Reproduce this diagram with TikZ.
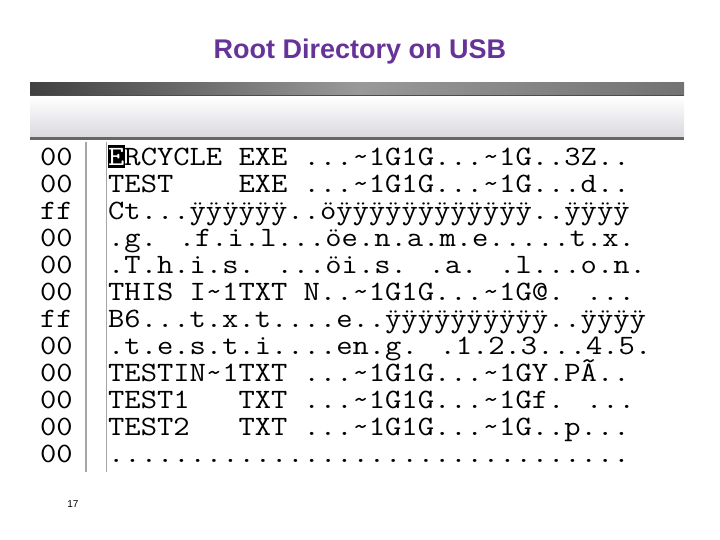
\documentclass[tikz,border=0pt]{standalone}
\usepackage{fontspec}
\setmainfont{Liberation Sans}
\newfontfamily\dumpfont[FakeStretch=1.13]{Latin Modern Mono}
\definecolor{ttl}{RGB}{102,51,153}
\begin{document}
\begin{tikzpicture}[x=1pt,y=1pt,
  row/.style={anchor=base west,inner sep=0pt,font=\dumpfont\fontsize{28}{28}\selectfont},
  hex/.style={anchor=base west,inner sep=0pt,font=\dumpfont\fontsize{28}{28}\selectfont}]
\useasboundingbox (0,0) rectangle (720,540);
\node[font=\bfseries\fontsize{27}{27}\selectfont,text=ttl] (title) at (360,488) {Root Directory on USB};
\shade[left color=black!75,right color=black!55,middle color=black!40] (30,445) rectangle (684,457);
\fill[black!70] (30,443) rectangle (684,445);
\shade[top color=white,bottom color=blue!15!black!15] (30,403) rectangle (684,443);
\fill[black!60] (30,400) rectangle (684,403);
\draw[black!35,line width=1.5] (86,398) -- (86,68);
\draw[black!35,line width=1] (106,398) -- (106,68);
\foreach \h [count=\i] in {00,00,ff,00,00,00,ff,00,00,00,00,00}
  \node[hex] (h\i) at (40,374-27*\i+27) {\h};
\node[row] (r1) at (108,374) {\phantom{E}RCYCLE EXE ...\string~1G1G...\string~1G..3Z..};
\fill[black] (108,372) rectangle (125,395);
\node[row,text=white] (r1b) at (108,374) {E};
\node[row] (r2) at (108,347) {TEST\ \ \ \ EXE ...\string~1G1G...\string~1G...d..};
\node[row] (r3) at (108,320) {Ct...ÿÿÿÿÿÿ..öÿÿÿÿÿÿÿÿÿÿÿÿ..ÿÿÿÿ};
\node[row] (r4) at (108,293) {.g. .f.i.l...öe.n.a.m.e.....t.x.};
\node[row] (r5) at (108,266) {.T.h.i.s. ...öi.s. .a. .l...o.n.};
\node[row] (r6) at (108,239) {THIS I\string~1TXT N..\string~1G1G...\string~1G@. ...};
\node[row] (r7) at (108,212) {B6...t.x.t....e..ÿÿÿÿÿÿÿÿÿÿ..ÿÿÿÿ};
\node[row] (r8) at (108,185) {.t.e.s.t.i....en.g. .1.2.3...4.5.};
\node[row] (r9) at (108,158) {TESTIN\string~1TXT ...\string~1G1G...\string~1GY.PÃ..};
\node[row] (r10) at (108,131) {TEST1\ \ \ TXT ...\string~1G1G...\string~1Gf. ...};
\node[row] (r11) at (108,104) {TEST2\ \ \ TXT ...\string~1G1G...\string~1G..p...};
\node[row] (r12) at (108,77) {................................};
\node[font=\rmfamily\fontsize{10}{10}\selectfont] (pg) at (73,36) {17};
\end{tikzpicture}
\end{document}
